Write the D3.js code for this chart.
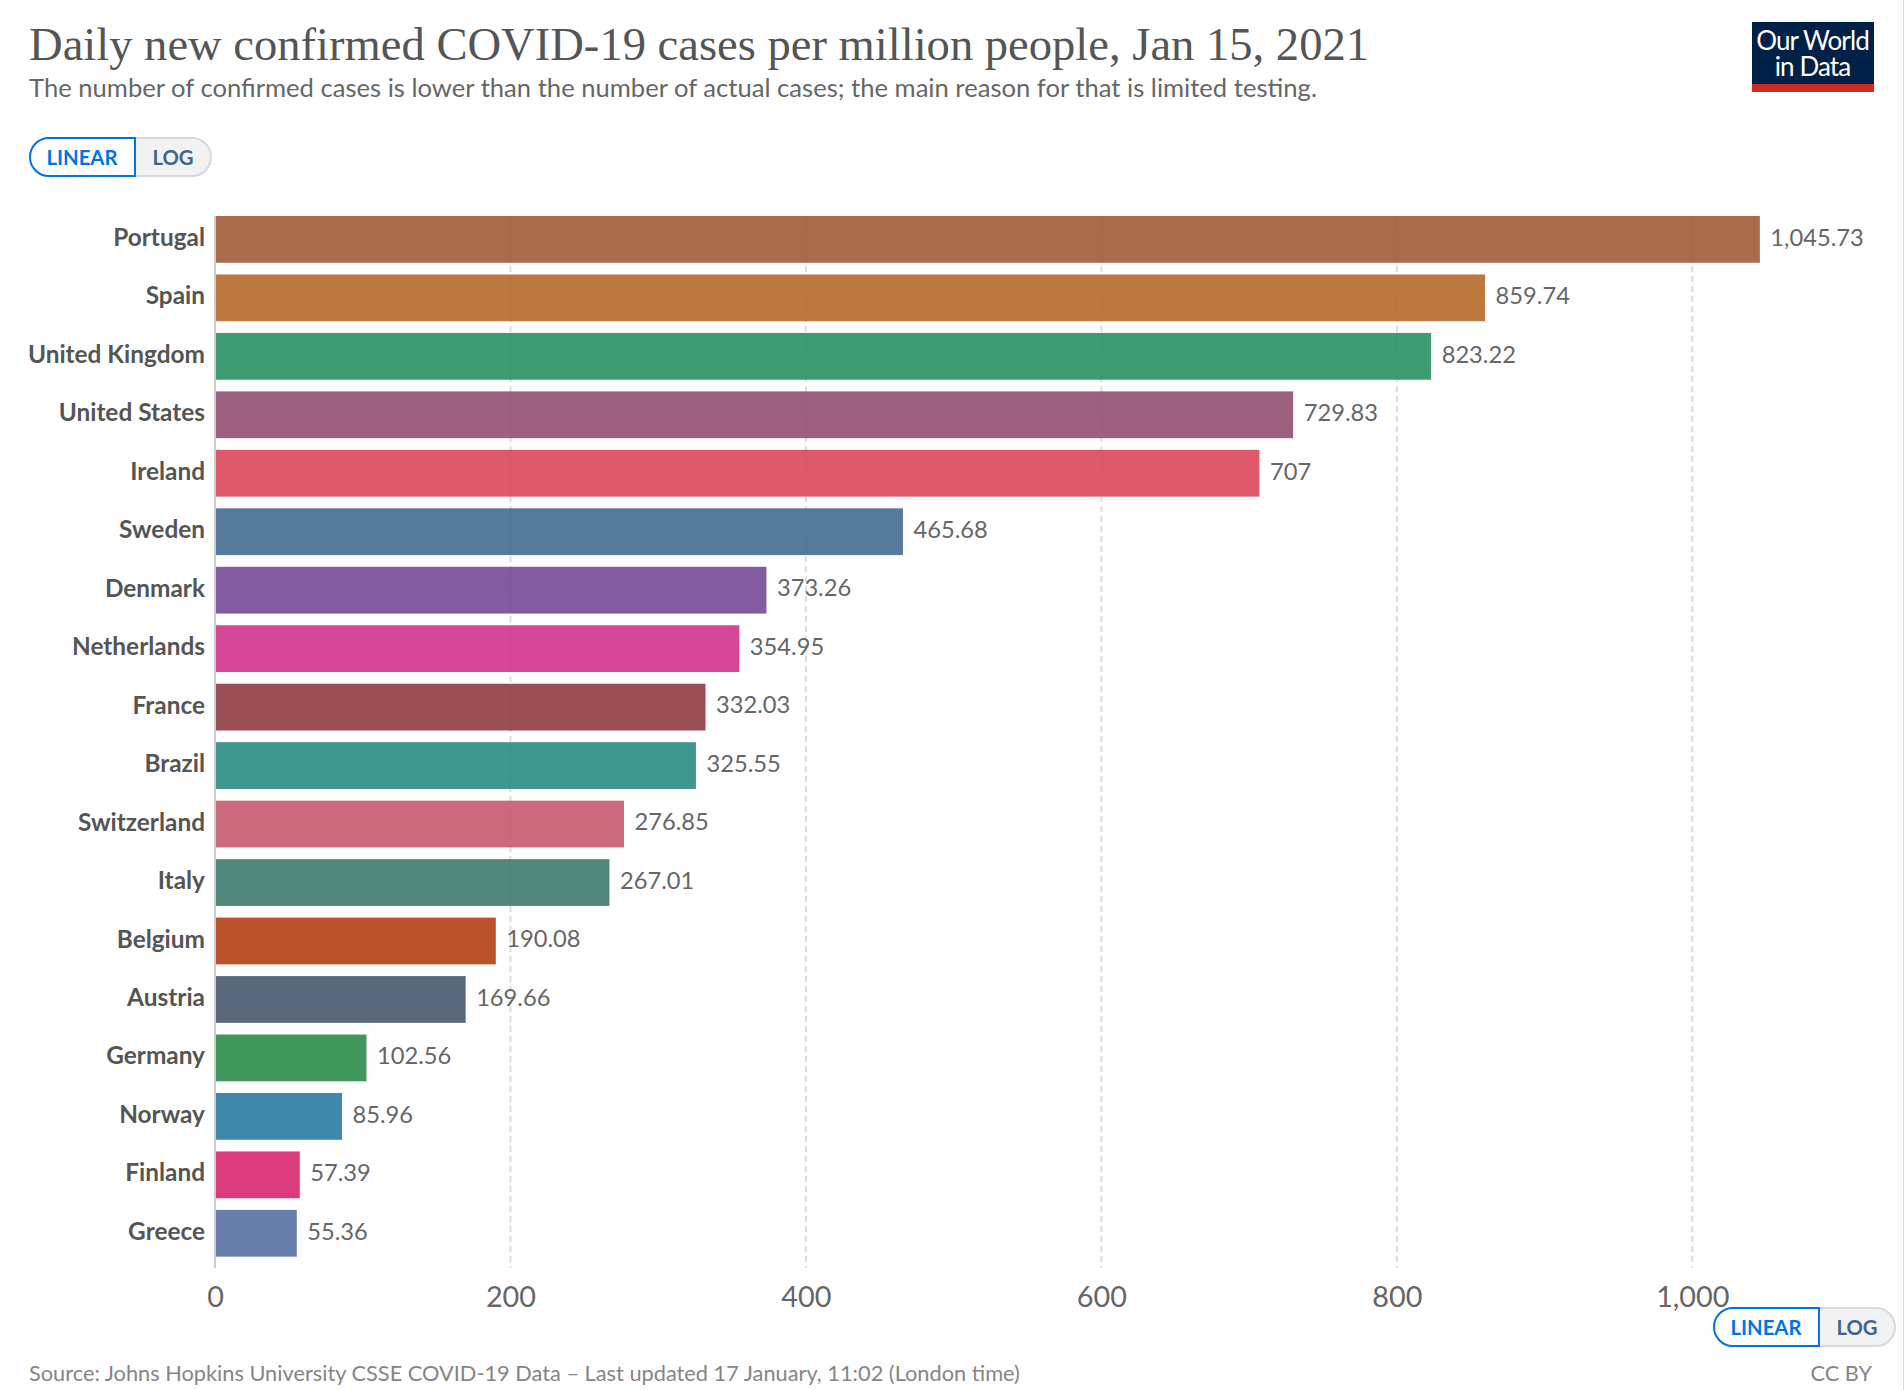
<!DOCTYPE html>
<html>
<head>
<meta charset="utf-8">
<script src="https://cdn.jsdelivr.net/npm/d3@7"></script>
<style>
  html, body { margin: 0; padding: 0; background: #fff; }
  svg { display: block; }
  text { font-family: Lato, sans-serif; }
</style>
</head>
<body>
<div id="chart"></div>
<script>
var countries = ['Portugal', 'Spain', 'United Kingdom', 'United States', 'Ireland', 'Sweden',
  'Denmark', 'Netherlands', 'France', 'Brazil', 'Switzerland', 'Italy', 'Belgium', 'Austria',
  'Germany', 'Norway', 'Finland', 'Greece'];
var cases = [1045.73, 859.74, 823.22, 729.83, 707, 465.68, 373.26, 354.95, 332.03, 325.55,
  276.85, 267.01, 190.08, 169.66, 102.56, 85.96, 57.39, 55.36];
var barColors = ['#9A5129', '#B1601F', '#1D8A5A', '#8C4569', '#D73C50', '#38638B', '#6D3E91',
  '#CF2884', '#883039', '#1E8579', '#C15065', '#317464', '#B13507', '#3D4E66', '#1F8641',
  '#1D729C', '#D51864', '#4C6A9C'];
var xTicks = [0, 200, 400, 600, 800, 1000];

var width = 1904, height = 1390;
var left = 215, right = 1692.3, top_ = 216, barsBottom = 1256.7, axisBottom = 1268;

var svg = d3.select('#chart').append('svg')
  .attr('width', width)
  .attr('height', height);

var x = d3.scaleLinear().domain([0, 1000]).range([left, right]);
var y = d3.scaleBand().domain(countries).range([top_, barsBottom]).paddingInner(0.2);

// header
svg.append('text')
  .attr('x', 29).attr('y', 60)
  .attr('textLength', 1340).attr('lengthAdjust', 'spacingAndGlyphs')
  .style('font-family', '"Liberation Serif", serif')
  .style('font-size', '46px')
  .style('fill', '#555')
  .text('Daily new confirmed COVID-19 cases per million people, Jan 15, 2021');

svg.append('text')
  .attr('x', 29).attr('y', 97)
  .style('font-size', '25.62px')
  .style('fill', '#666')
  .text('The number of confirmed cases is lower than the number of actual cases; the main reason for that is limited testing.');

// logo
var logo = svg.append('g');
logo.append('rect').attr('x', 1752).attr('y', 22).attr('width', 122).attr('height', 70).attr('fill', '#002147');
logo.append('rect').attr('x', 1752).attr('y', 84).attr('width', 122).attr('height', 8).attr('fill', '#D42B21');
logo.append('text')
  .attr('text-anchor', 'middle')
  .style('font-size', '26px')
  .style('letter-spacing', '-0.9px')
  .style('fill', '#fff')
  .selectAll('tspan').data(['Our World', 'in Data']).enter().append('tspan')
    .attr('x', 1812.5)
    .attr('y', function(d, i) { return 50 + i * 26; })
    .text(function(d) { return d; });

// scale toggle, drawn twice
function toggle(tx, ty) {
  var g = svg.append('g').attr('transform', 'translate(' + tx + ',' + ty + ')');
  g.append('path')
    .attr('d', 'M106,1 H163 A19,19 0 0 1 163,39 H106 Z')
    .attr('fill', '#f2f2f2')
    .attr('stroke', '#d5d9e0').attr('stroke-width', 2);
  g.append('path')
    .attr('d', 'M106,1 H20 A19,19 0 0 0 20,39 H106 Z')
    .attr('fill', '#fff')
    .attr('stroke', '#0073e6').attr('stroke-width', 2);
  g.append('text').attr('x', 53).attr('y', 27.5).attr('text-anchor', 'middle')
    .style('font-size', '20.3px').style('font-weight', 700).style('fill', '#0073e6')
    .text('LINEAR');
  g.append('text').attr('x', 144).attr('y', 27.5).attr('text-anchor', 'middle')
    .style('font-size', '20.3px').style('font-weight', 700).style('fill', '#44648c')
    .text('LOG');
}
toggle(29, 137);

// gridlines
svg.append('g').selectAll('line')
  .data(xTicks.slice(1))
  .enter().append('line')
    .attr('x1', function(d) { return x(d); })
    .attr('x2', function(d) { return x(d); })
    .attr('y1', top_)
    .attr('y2', axisBottom)
    .attr('stroke', '#ddd')
    .attr('stroke-width', 2)
    .attr('stroke-dasharray', '6,4');

// x axis labels
var axis = svg.append('g')
  .attr('transform', 'translate(0,' + axisBottom + ')')
  .call(d3.axisBottom(x).tickValues(xTicks).tickFormat(d3.format(',')).tickSize(0).tickPadding(19));
axis.select('.domain').remove();
axis.selectAll('text')
  .style('font-family', 'Lato, sans-serif')
  .style('font-size', '28.8px')
  .style('fill', '#666');

// bars
svg.append('g').selectAll('rect')
  .data(countries)
  .enter().append('rect')
    .attr('x', x(0))
    .attr('y', function(d) { return y(d); })
    .attr('width', function(d, i) { return x(cases[i]) - x(0); })
    .attr('height', y.bandwidth())
    .attr('fill', function(d, i) { return barColors[i]; })
    .attr('fill-opacity', 0.85);

// zero line
svg.append('line')
  .attr('x1', x(0)).attr('x2', x(0))
  .attr('y1', top_).attr('y2', axisBottom)
  .attr('stroke', '#ccc').attr('stroke-width', 2);

// category labels
svg.append('g').selectAll('text')
  .data(countries)
  .enter().append('text')
    .attr('x', x(0) - 10)
    .attr('y', function(d) { return y(d) + y.bandwidth() / 2 - 2; })
    .attr('dy', '0.35em')
    .attr('text-anchor', 'end')
    .style('font-size', '24.4px')
    .style('font-weight', 700)
    .style('fill', '#555')
    .text(function(d) { return d; });

// value labels
svg.append('g').selectAll('text')
  .data(cases)
  .enter().append('text')
    .attr('x', function(d) { return x(d) + 10.5; })
    .attr('y', function(d, i) { return y(countries[i]) + y.bandwidth() / 2 - 2; })
    .attr('dy', '0.35em')
    .style('font-size', '23.7px')
    .style('fill', '#666')
    .text(d3.format(','));

toggle(1713, 1307);

// footer
svg.append('text')
  .attr('x', 29).attr('y', 1381)
  .style('font-size', '21.78px')
  .style('fill', '#858585')
  .text('Source: Johns Hopkins University CSSE COVID-19 Data – Last updated 17 January, 11:02 (London time)');
svg.append('text')
  .attr('x', 1872).attr('y', 1381)
  .attr('text-anchor', 'end')
  .style('font-size', '21.78px')
  .style('fill', '#858585')
  .text('CC BY');

// page edge
svg.append('line')
  .attr('x1', 1903.5).attr('x2', 1903.5)
  .attr('y1', 0).attr('y2', height)
  .attr('stroke', '#ddd').attr('stroke-width', 1);
</script>
</body>
</html>
